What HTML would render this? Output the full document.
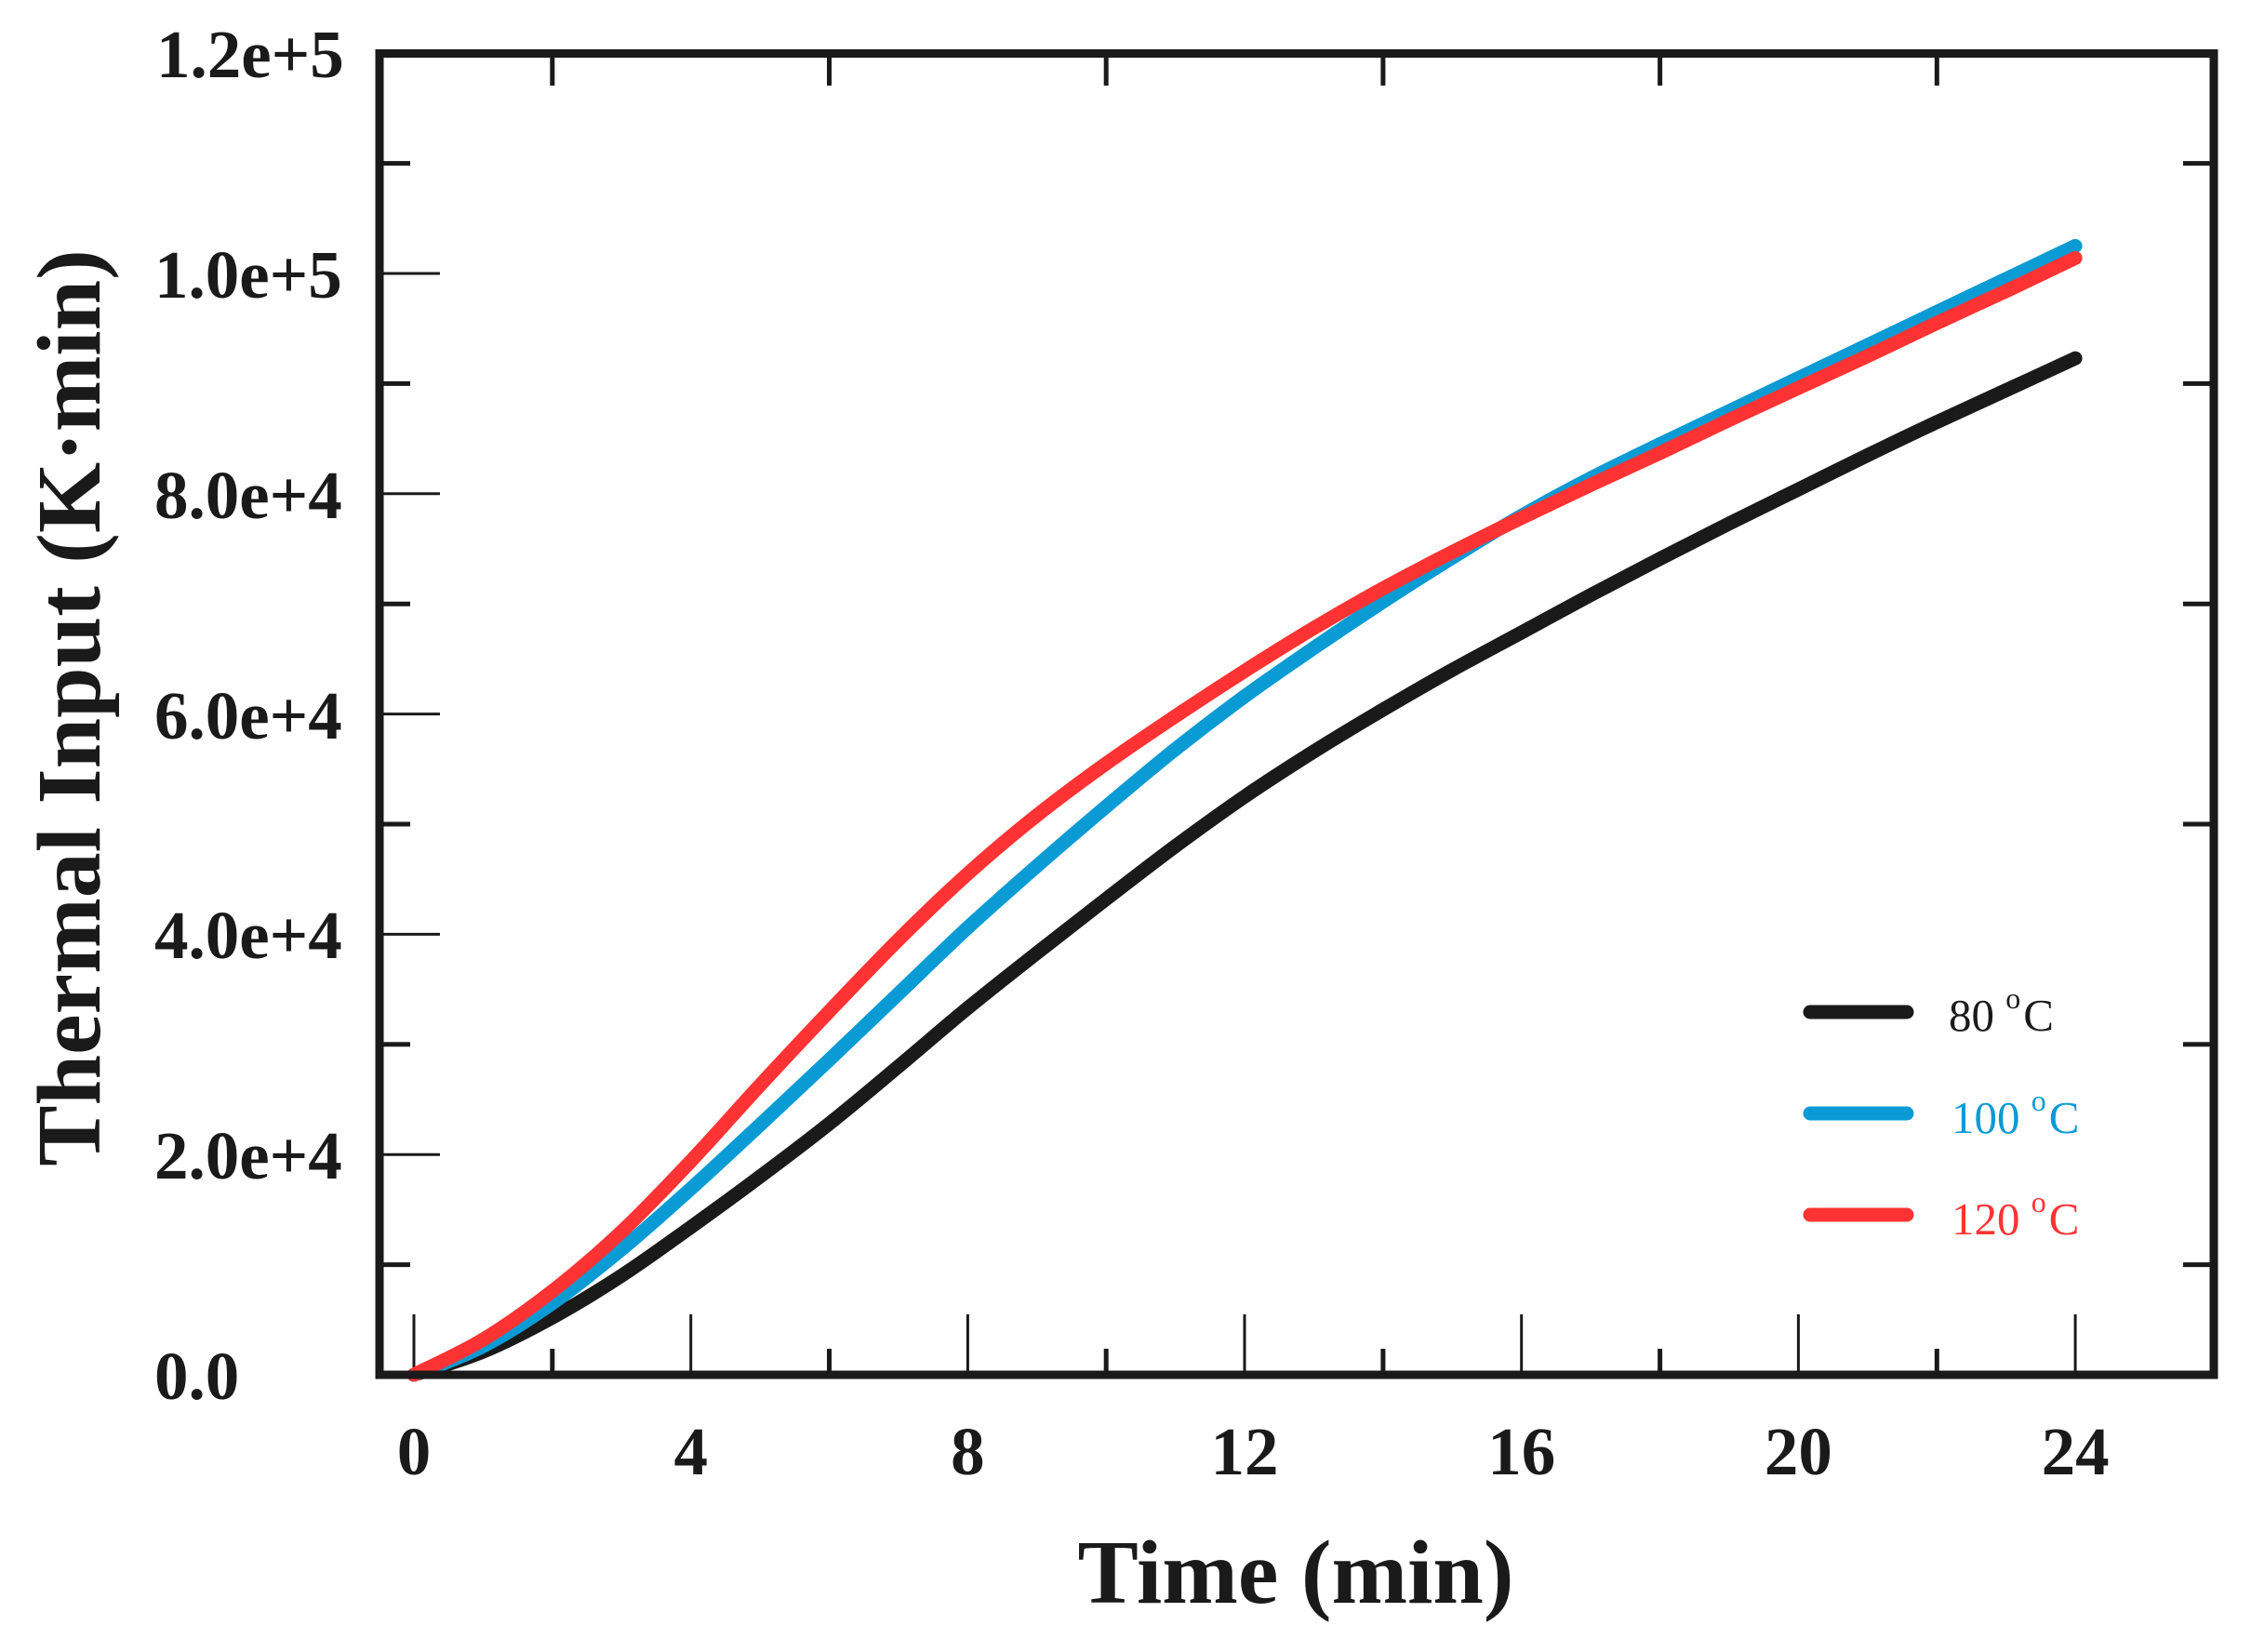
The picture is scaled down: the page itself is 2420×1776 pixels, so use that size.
<!DOCTYPE html>
<html>
<head>
<meta charset="utf-8">
<style>
  html, body { margin: 0; padding: 0; background: #ffffff; }
  body { width: 2420px; height: 1776px; overflow: hidden; }
  svg { display: block; }
  .tl { font-family: "Liberation Serif", "Times New Roman", serif; font-weight: bold; font-size: 73px; fill: #1a1a1a; }
  .ttl { font-family: "Liberation Serif", "Times New Roman", serif; font-weight: bold; font-size: 98px; fill: #1a1a1a; }
  .lg { font-family: "Liberation Serif", "Times New Roman", serif; font-size: 49px; }
</style>
</head>
<body>
<svg id="chart" width="2420" height="1776" viewBox="0 0 2420 1776" xmlns="http://www.w3.org/2000/svg">
  <rect x="0" y="0" width="2420" height="1776" fill="#ffffff"/>

  <!-- ticks -->
  <g stroke="#1a1a1a" fill="none">
    <g stroke-width="3">
      <line x1="445" y1="1413" x2="445" y2="1476"/>
      <line x1="742.7" y1="1413" x2="742.7" y2="1476"/>
      <line x1="1040.4" y1="1413" x2="1040.4" y2="1476"/>
      <line x1="1338.0" y1="1413" x2="1338.0" y2="1476"/>
      <line x1="1635.7" y1="1413" x2="1635.7" y2="1476"/>
      <line x1="1933.4" y1="1413" x2="1933.4" y2="1476"/>
      <line x1="2231.1" y1="1413" x2="2231.1" y2="1476"/>
    </g>
    <g stroke-width="5">
      <line x1="593.8" y1="1450" x2="593.8" y2="1476"/>
      <line x1="891.5" y1="1450" x2="891.5" y2="1476"/>
      <line x1="1189.2" y1="1450" x2="1189.2" y2="1476"/>
      <line x1="1486.9" y1="1450" x2="1486.9" y2="1476"/>
      <line x1="1784.6" y1="1450" x2="1784.6" y2="1476"/>
      <line x1="2082.3" y1="1450" x2="2082.3" y2="1476"/>
    </g>
    <g stroke-width="5">
      <line x1="593.8" y1="60" x2="593.8" y2="92"/>
      <line x1="891.5" y1="60" x2="891.5" y2="92"/>
      <line x1="1189.2" y1="60" x2="1189.2" y2="92"/>
      <line x1="1486.9" y1="60" x2="1486.9" y2="92"/>
      <line x1="1784.6" y1="60" x2="1784.6" y2="92"/>
      <line x1="2082.3" y1="60" x2="2082.3" y2="92"/>
    </g>
    <g stroke-width="3">
      <line x1="410" y1="1241.2" x2="473" y2="1241.2"/>
      <line x1="410" y1="1004.4" x2="473" y2="1004.4"/>
      <line x1="410" y1="767.6" x2="473" y2="767.6"/>
      <line x1="410" y1="530.8" x2="473" y2="530.8"/>
      <line x1="410" y1="294.0" x2="473" y2="294.0"/>
    </g>
    <g stroke-width="5">
      <line x1="410" y1="1359.6" x2="441" y2="1359.6"/>
      <line x1="410" y1="1122.8" x2="441" y2="1122.8"/>
      <line x1="410" y1="886.0" x2="441" y2="886.0"/>
      <line x1="410" y1="649.2" x2="441" y2="649.2"/>
      <line x1="410" y1="412.4" x2="441" y2="412.4"/>
      <line x1="410" y1="175.6" x2="441" y2="175.6"/>
    </g>
    <g stroke-width="5">
      <line x1="2347" y1="1359.6" x2="2378" y2="1359.6"/>
      <line x1="2347" y1="1122.8" x2="2378" y2="1122.8"/>
      <line x1="2347" y1="886.0" x2="2378" y2="886.0"/>
      <line x1="2347" y1="649.2" x2="2378" y2="649.2"/>
      <line x1="2347" y1="412.4" x2="2378" y2="412.4"/>
      <line x1="2347" y1="175.6" x2="2378" y2="175.6"/>
    </g>
  </g>

  <!-- series -->
  <g fill="none" stroke-width="15" stroke-linecap="round" stroke-linejoin="round">
    <path id="s80" stroke="#1a1a1a" d="M445,1478 L519.4,1453.1 L593.8,1416.4 L668.3,1371.4 L742.7,1319.3 L817.1,1264.9 L891.5,1208.0 L965.9,1146.5 L1040.4,1083.7 L1114.8,1024.5 L1189.2,966.5 L1263.6,909.7 L1338.0,856.4 L1412.5,807.9 L1486.9,762.9 L1561.3,720.2 L1635.7,680.0 L1710.1,639.7 L1784.6,600.7 L1859.0,562.8 L1933.4,526.1 L2007.8,489.4 L2082.2,453.8 L2156.7,419.5 L2231.1,385.2"/>
    <path id="s100" stroke="#0a9bd4" d="M445,1478 L519.4,1447.2 L593.8,1401.0 L668.3,1343.0 L742.7,1277.9 L817.1,1209.2 L891.5,1139.4 L965.9,1068.3 L1040.4,997.3 L1114.8,931.0 L1189.2,867.1 L1263.6,805.5 L1338.0,748.7 L1412.5,696.6 L1486.9,646.8 L1561.3,599.5 L1635.7,554.5 L1710.1,514.2 L1784.6,477.5 L1859.0,442.0 L1933.4,406.5 L2007.8,371.0 L2082.2,335.4 L2156.7,299.9 L2231.1,264.4"/>
    <path id="s120" stroke="#ff3333" d="M445,1478 L519.4,1440.1 L593.8,1388.0 L668.3,1324.1 L742.7,1248.3 L817.1,1166.6 L891.5,1087.3 L965.9,1010.3 L1040.4,939.3 L1114.8,876.5 L1189.2,820.9 L1263.6,770.0 L1338.0,721.4 L1412.5,675.2 L1486.9,632.6 L1561.3,593.6 L1635.7,556.8 L1710.1,521.3 L1784.6,487.0 L1859.0,451.5 L1933.4,417.1 L2007.8,382.8 L2082.2,347.3 L2156.7,312.9 L2231.1,277.4"/>
  </g>

  <!-- frame -->
  <rect x="408" y="57.5" width="1972" height="1420.5" fill="none" stroke="#1a1a1a" stroke-width="9"/>

  <!-- y tick labels -->
  <g class="tl">
    <text x="168" y="83">1.2e+5</text>
    <text x="166" y="320">1.0e+5</text>
    <text x="166" y="557">8.0e+4</text>
    <text x="166" y="794">6.0e+4</text>
    <text x="166" y="1030">4.0e+4</text>
    <text x="166" y="1267">2.0e+4</text>
    <text x="166" y="1504">0.0</text>
  </g>

  <!-- x tick labels -->
  <g class="tl" text-anchor="middle">
    <text x="445" y="1585">0</text>
    <text x="742.7" y="1585">4</text>
    <text x="1040.4" y="1585">8</text>
    <text x="1338.0" y="1585">12</text>
    <text x="1635.7" y="1585">16</text>
    <text x="1933.4" y="1585">20</text>
    <text x="2231.1" y="1585">24</text>
  </g>

  <!-- axis titles -->
  <text class="ttl" x="1393" y="1723" text-anchor="middle">Time (min)</text>
  <text class="ttl" transform="translate(107,761) rotate(-90)" text-anchor="middle">Thermal Input (K·min)</text>

  <!-- legend -->
  <g stroke-width="15" stroke-linecap="round">
    <line x1="1946" y1="1088" x2="2050" y2="1088" stroke="#1a1a1a"/>
    <line x1="1946" y1="1197" x2="2050" y2="1197" stroke="#0a9bd4"/>
    <line x1="1946" y1="1306" x2="2050" y2="1306" stroke="#ff3333"/>
  </g>
  <text class="lg" x="2095" y="1108" fill="#1a1a1a">80 <tspan font-size="32" dy="-24">o</tspan><tspan dy="24" dx="3">C</tspan></text>
  <text class="lg" x="2098" y="1218" fill="#0a9bd4">100 <tspan font-size="32" dy="-24">o</tspan><tspan dy="24" dx="3">C</tspan></text>
  <text class="lg" x="2098" y="1327" fill="#ff3333">120 <tspan font-size="32" dy="-24">o</tspan><tspan dy="24" dx="3">C</tspan></text>
</svg>

<script>
(function(){
  function smooth(id){
    var el = document.getElementById(id);
    if(!el) return;
    var d = el.getAttribute('d');
    var nums = d.replace(/[ML]/g,' ').trim().split(/[\s,]+/).map(Number);
    var p = [];
    for (var i=0;i<nums.length;i+=2) p.push([nums[i],nums[i+1]]);
    var out = 'M' + p[0][0] + ',' + p[0][1];
    for (var i=0;i<p.length-1;i++){
      var p0 = p[i>0?i-1:i], p1 = p[i], p2 = p[i+1], p3 = p[i+2<p.length?i+2:i+1];
      var t = 6;
      var c1x = p1[0] + (p2[0]-p0[0])/t, c1y = p1[1] + (p2[1]-p0[1])/t;
      var c2x = p2[0] - (p3[0]-p1[0])/t, c2y = p2[1] - (p3[1]-p1[1])/t;
      out += ' C' + c1x.toFixed(1) + ',' + c1y.toFixed(1) + ' ' + c2x.toFixed(1) + ',' + c2y.toFixed(1) + ' ' + p2[0] + ',' + p2[1];
    }
    el.setAttribute('d', out);
  }
  try { smooth('s80'); smooth('s100'); smooth('s120'); } catch(e) {}
})();
</script>
</body>
</html>
